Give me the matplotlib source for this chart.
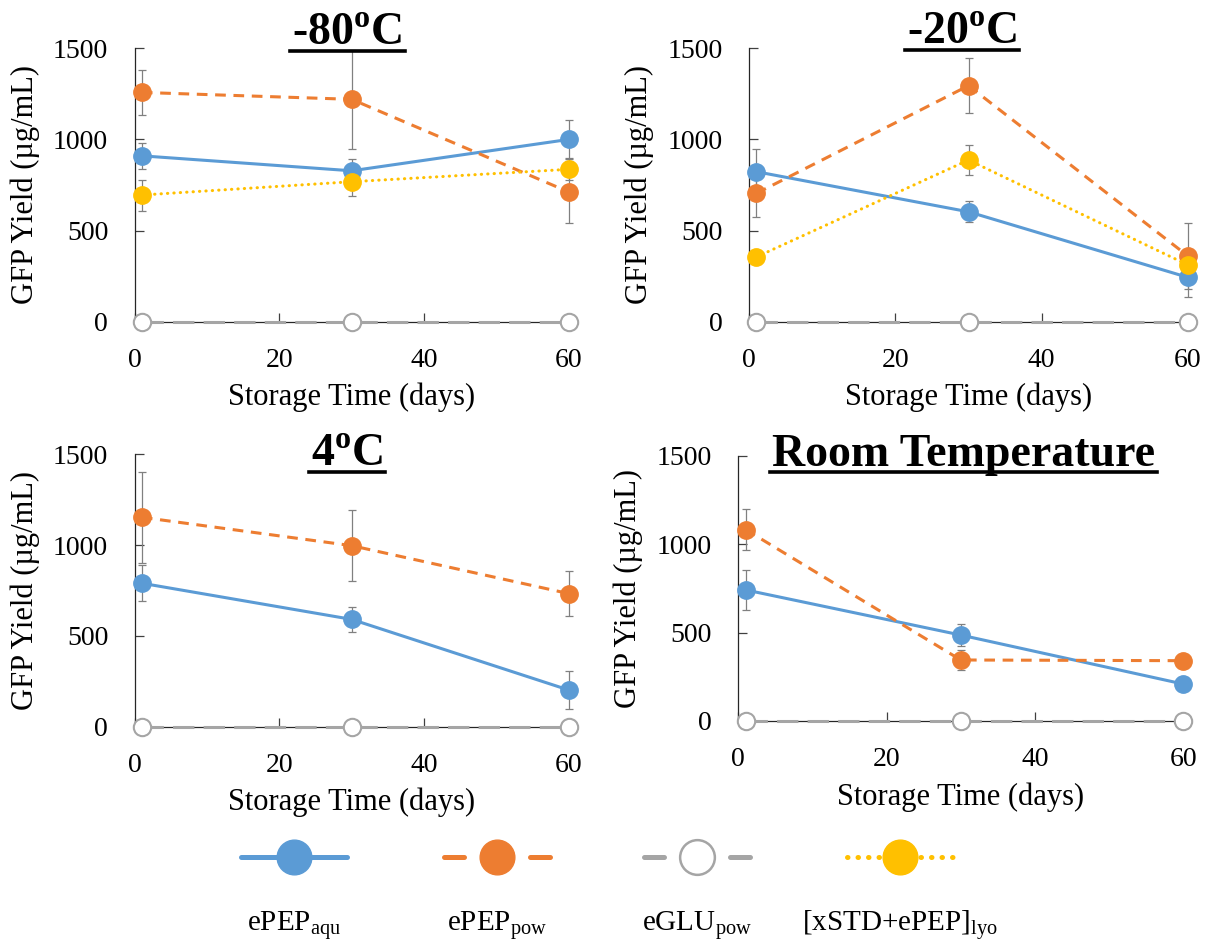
import numpy as np
import matplotlib
matplotlib.use("Agg")
import matplotlib.pyplot as plt
from matplotlib.lines import Line2D

plt.rcParams['font.family'] = ['Liberation Serif', 'DejaVu Serif']
plt.rcParams['mathtext.fontset'] = 'custom'
plt.rcParams['mathtext.rm'] = 'Liberation Serif'
plt.rcParams['mathtext.bf'] = 'Liberation Serif:bold'

# 1. data (GFP yield, ug/mL)
days = [1, 30, 60]

m80_aqu = [910, 828, 1000]
m80_aqu_err = [70, 65, 105]
m80_pow = [1258, 1220, 712]
m80_pow_err = [125, 270, 170]
m80_glu = [0, 0, 0]
m80_lyo = [695, 768, 836]
m80_lyo_err = [85, 80, 60]

m20_aqu = [823, 603, 243]
m20_aqu_err = [125, 57, 110]
m20_pow = [704, 1295, 360]
m20_pow_err = [130, 150, 183]
m20_glu = [0, 0, 0]
m20_lyo = [355, 887, 311]
m20_lyo_err = [30, 83, 30]

c4_aqu = [790, 591, 202]
c4_aqu_err = [100, 70, 102]
c4_pow = [1153, 997, 733]
c4_pow_err = [250, 197, 124]
c4_glu = [0, 0, 0]

rt_aqu = [741, 486, 209]
rt_aqu_err = [115, 64, 15]
rt_pow = [1082, 345, 341]
rt_pow_err = [115, 57, 15]
rt_glu = [0, 0, 0]

titles = ['-80', '-20', '4', 'Room Temperature']
x_ticks = [0, 20, 40, 60]
y_ticks = [0, 500, 1000, 1500]
legend_labels = [r'ePEP$_{\mathrm{aqu}}$', r'ePEP$_{\mathrm{pow}}$',
                 r'eGLU$_{\mathrm{pow}}$', r'[xSTD+ePEP]$_{\mathrm{lyo}}$']

# 2. styles
W, H = 1206, 942
BLUE, ORANGE, GREY, YELLOW = '#5B9BD5', '#ED7D31', '#A5A5A5', '#FFC000'
ERR = '#808080'
styles = {
    'aqu': dict(color=BLUE, ls='-', mfc=BLUE, mec=BLUE),
    'pow': dict(color=ORANGE, ls=(0, (3.5, 2.5)), mfc=ORANGE, mec=ORANGE),
    'glu': dict(color=GREY, ls=(0, (7, 3)), mfc='white', mec=GREY),
    'lyo': dict(color=YELLOW, ls=(0, (0.1, 2.0)), mfc=YELLOW, mec=YELLOW),
}


def px_rect(left, top, right, bottom):
    return [left / W, 1 - bottom / H, (right - left) / W, (bottom - top) / H]


fig = plt.figure(figsize=(W / 100, H / 100), dpi=100)

panels = [
    (px_rect(134.6, 48.3, 568.7, 321.7),
     [('aqu', m80_aqu, m80_aqu_err), ('pow', m80_pow, m80_pow_err),
      ('glu', m80_glu, None), ('lyo', m80_lyo, m80_lyo_err)]),
    (px_rect(749, 48.3, 1188, 321.7),
     [('aqu', m20_aqu, m20_aqu_err), ('pow', m20_pow, m20_pow_err),
      ('glu', m20_glu, None), ('lyo', m20_lyo, m20_lyo_err)]),
    (px_rect(134.6, 454.3, 568.7, 726.7),
     [('aqu', c4_aqu, c4_aqu_err), ('pow', c4_pow, c4_pow_err),
      ('glu', c4_glu, None)]),
    (px_rect(738.3, 455.7, 1183.2, 721),
     [('aqu', rt_aqu, rt_aqu_err), ('pow', rt_pow, rt_pow_err),
      ('glu', rt_glu, None)]),
]

axes = []
for rect, series in panels:
    ax = fig.add_axes(rect)
    # error bars underneath the markers
    for key, vals, err in series:
        if err is not None:
            ax.errorbar(days, vals, yerr=err, fmt='none', ecolor=ERR,
                        elinewidth=0.9, capsize=3.2, capthick=0.9,
                        zorder=2, clip_on=False)
    for key, vals, err in series:
        st = styles[key]
        ax.plot(days, vals, color=st['color'], linestyle=st['ls'], lw=2.2,
                marker='o', ms=12.5, mfc=st['mfc'], mec=st['mec'],
                mew=1.5 if key == 'glu' else 1.0,
                dash_capstyle='round' if key == 'lyo' else 'butt',
                zorder=3, clip_on=False)
    ax.set_xlim(0, 60)
    ax.set_ylim(0, 1500)
    ax.set_xticks(x_ticks)
    ax.set_yticks(y_ticks)
    ax.tick_params(direction='in', length=6.5, width=0.9, labelsize=20,
                   pad=19, color='#404040')
    for s in ['top', 'right']:
        ax.spines[s].set_visible(False)
    for s in ['left', 'bottom']:
        ax.spines[s].set_color('#262626')
        ax.spines[s].set_linewidth(0.9)
    ax.patch.set_alpha(0)
    w_px = rect[2] * W
    h_px = rect[3] * H
    ax.set_ylabel('GFP Yield (µg/mL)', fontsize=22)
    ax.yaxis.set_label_coords(-95 / w_px, 0.5)
    ax.set_xlabel('Storage Time (days)', fontsize=22)
    ax.xaxis.set_label_coords(0.5, -61 / h_px)
    axes.append(ax)

# 3. underlined bold titles
title_pos = [(347.5, 45), (962, 44), (347, 466), (963.5, 466)]
title_objs = []
for name, (tx, ty) in zip(titles, title_pos):
    if name == 'Room Temperature':
        s = name
    else:
        s = name + r'$^{\mathbf{o}}$C'
    t = fig.text(tx / W, 1 - ty / H, s, fontsize=33, fontweight='bold',
                 ha='center', va='baseline')
    title_objs.append((t, ty))

fig.canvas.draw()
renderer = fig.canvas.get_renderer()
for t, ty in title_objs:
    bb = t.get_window_extent(renderer)
    y = 1 - (ty + 6) / H
    fig.add_artist(Line2D([(bb.x0 - 2) / W, (bb.x1 + 2) / W], [y, y],
                          color='black', lw=2.6, transform=fig.transFigure))

# 4. legend drawn beneath the panels, labels below the handles
leg_cx = [294, 497, 697, 900]
leg_y = 856.5
leg_keys = ['aqu', 'pow', 'glu', 'lyo']
for cx, key, lab in zip(leg_cx, leg_keys, legend_labels):
    st = styles[key]
    xs = [(cx - 53) / W, (cx + 53) / W]
    ys = [1 - leg_y / H] * 2
    if key == 'aqu':
        ls = '-'
    elif key == 'lyo':
        ls = (0, (0.1, 2.0))
    else:
        ls = (0, (4, 13.2))
    fig.add_artist(Line2D(xs, ys, color=st['color'], lw=3.6, linestyle=ls,
                          solid_capstyle='round', dash_capstyle='round',
                          transform=fig.transFigure))
    fig.add_artist(Line2D([cx / W], [1 - leg_y / H], marker='o', ms=25,
                          mfc=st['mfc'], mec=st['mec'],
                          mew=1.8 if key == 'glu' else 1.0,
                          linestyle='none', transform=fig.transFigure))
    fig.text(cx / W, 1 - 931.5 / H, lab, fontsize=21, ha='center',
             va='baseline')

fig.savefig('out.png', dpi=100)
